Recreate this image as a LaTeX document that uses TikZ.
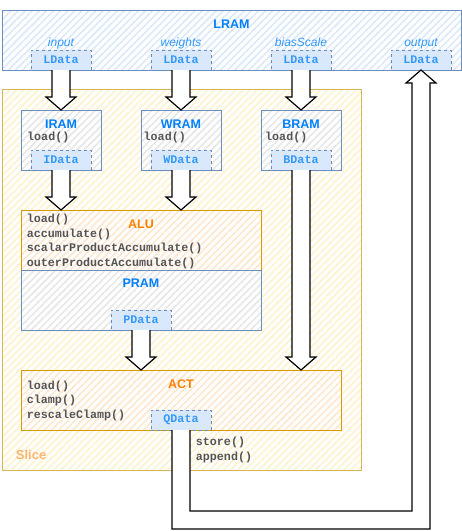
\documentclass[tikz,border=0pt]{standalone}
\usepackage{fontspec}
\setmainfont{Liberation Sans}
\setmonofont{Liberation Mono}
\usepackage{xcolor}
\usepackage{tikz}
\usetikzlibrary{positioning, calc, patterns.meta}

\definecolor{ramline}{HTML}{6C8EBF}
\definecolor{ramhatch}{HTML}{DAE8FC}
\definecolor{titleblue}{HTML}{007FFF}
\definecolor{portblue}{HTML}{3399FF}
\definecolor{datafill}{HTML}{DAE8FC}
\definecolor{sliceline}{HTML}{D6B656}
\definecolor{slicehatch}{HTML}{FFF2CC}
\definecolor{slicetext}{HTML}{FFB570}
\definecolor{unitline}{HTML}{D79B00}
\definecolor{unithatch}{HTML}{FFE6CC}
\definecolor{unittext}{HTML}{FF8000}
\definecolor{memhatch}{HTML}{E6E6E6}
\definecolor{codegray}{HTML}{555555}

\newcommand{\blockarrow}[2]{%
    \draw[flex] let \p1=(#1), \p2=(#2) in
        (\x2-9pt,\y1) -- (\x2-9pt,\y2+13pt) -- (\x2-15pt,\y2+13pt) -- (\x2,\y2)
        -- (\x2+15pt,\y2+13pt) -- (\x2+9pt,\y2+13pt) -- (\x2+9pt,\y1);%
}

\begin{document}
\begin{tikzpicture}[x=1pt, y=-1pt,
        hatch/.style={preaction={fill=white}, pattern={Lines[angle=45, distance=5pt, line width=1.5pt]}, pattern color=#1},
        box/.style={draw=ramline, line width=1pt, inner sep=0pt, outer sep=0pt},
        mem/.style={box, hatch=memhatch, minimum width=80pt, minimum height=60pt},
        unit/.style={box, draw=unitline, hatch=unithatch},
        data/.style={draw=ramline, dashed, fill=datafill, line width=0.8pt, text=portblue,
            font=\ttfamily\bfseries\fontsize{11.7}{14}\selectfont,
            minimum width=60pt, minimum height=20pt, inner sep=0pt, outer sep=0pt},
        title/.style={font=\bfseries\fontsize{12.5}{14}\selectfont, text=titleblue, inner sep=0pt},
        port/.style={font=\itshape\fontsize{12}{14}\selectfont, text=portblue, inner sep=0pt},
        code/.style={font=\ttfamily\bfseries\fontsize{11.7}{14.5}\selectfont, text=codegray,
            align=left, inner sep=0pt, anchor=base west},
        flex/.style={draw=black, line width=1.2pt, fill=white, line join=miter}]

        \useasboundingbox (0,0) rectangle (462,531);

        \node (lram) [box, hatch=ramhatch, minimum width=459pt, minimum height=60pt] at (231.5,40) {};
        \node (slice) [box, draw=sliceline, hatch=slicehatch, minimum width=359pt, minimum height=381pt] at (181.5,279.5) {};

        \node (iram) [mem] at (61,140) {};
        \node (wram) [mem, right=40pt of iram] {};
        \node (bram) [mem, right=40pt of wram] {};

        \node (alu) [unit, minimum width=240pt, minimum height=60pt] at (141,240) {};
        \node (pram) [mem, minimum width=240pt, below=0pt of alu] {};
        \node (act) [unit, minimum width=320pt, minimum height=60pt] at (181,400) {};

        \node (ldin) [data] at (61,60) {LData};
        \node (ldw) [data, right=60pt of ldin] {LData};
        \node (ldb) [data, right=60pt of ldw] {LData};
        \node (ldout) [data, right=60pt of ldb] {LData};

        \node (idata) [data, anchor=south] at (iram.south) {IData};
        \node (wdata) [data, anchor=south] at (wram.south) {WData};
        \node (bdata) [data, anchor=south] at (bram.south) {BData};
        \node (pdata) [data, anchor=south] at (pram.south) {PData};
        \node (qdata) [data, anchor=south] at (act.south) {QData};

        \node (lramtitle) [title, below=9.5pt of lram.north] {LRAM};
        \node (iramtitle) [title, below=9.5pt of iram.north] {IRAM};
        \node (wramtitle) [title, below=9.5pt of wram.north] {WRAM};
        \node (bramtitle) [title, below=9.5pt of bram.north] {BRAM};
        \node (alutitle) [title, text=unittext, below=9.5pt of alu.north] {ALU};
        \node (pramtitle) [title, below=8.5pt of pram.north] {PRAM};
        \node (acttitle) [title, text=unittext, below=9.5pt of act.north] {ACT};
        \node (slicetitle) [title, text=slicetext, font=\bfseries\fontsize{13}{15}\selectfont,
            above right=11pt and 13.7pt of slice.south west, anchor=base west] {Slice};

        \node (inport) [port, above=3.5pt of ldin.north, anchor=base] {input};
        \node (wport) [port, above=3.5pt of ldw.north, anchor=base] {weights};
        \node (bport) [port, above=3.5pt of ldb.north, anchor=base] {biasScale};
        \node (outport) [port, above=3.5pt of ldout.north, anchor=base] {output};

        \node (iramload) [code] at (27,140) {load()};
        \node (wramload) [code] at (143.5,140) {load()};
        \node (bramload) [code] at (265,140) {load()};
        \node (aluops) [code] at (26.7,266) {load()\\accumulate()\\scalarProductAccumulate()\\outerProductAccumulate()};
        \node (actops) [code] at (26.7,418) {load()\\clamp()\\rescaleClamp()};
        \node (storeops) [code] at (195.7,460) {store()\\append()};

        \coordinate (bend) at (300,520);

        \blockarrow{ldin.south}{iram.north}
        \blockarrow{ldw.south}{wram.north}
        \blockarrow{ldb.south}{bram.north}
        \blockarrow{idata.south}{idata.south|-alu.north}
        \blockarrow{wdata.south}{wdata.south|-alu.north}
        \blockarrow{bdata.south}{bdata.south|-act.north}
        \blockarrow{pdata.south}{pdata.south|-act.north}

        \draw[flex] let \p1=(qdata.south), \p2=(ldout.south), \p3=(bend) in
            (\x1-9pt,\y1) -- (\x1-9pt,\y3-9pt) -- (\x2+9pt,\y3-9pt) -- (\x2+9pt,\y2-13pt)
            -- (\x2+15pt,\y2-13pt) -- (\x2,\y2) -- (\x2-15pt,\y2-13pt) -- (\x2-9pt,\y2-13pt)
            -- (\x2-9pt,\y3+9pt) -- (\x1+9pt,\y3+9pt) -- (\x1+9pt,\y1);

    \end{tikzpicture}
\end{document}
